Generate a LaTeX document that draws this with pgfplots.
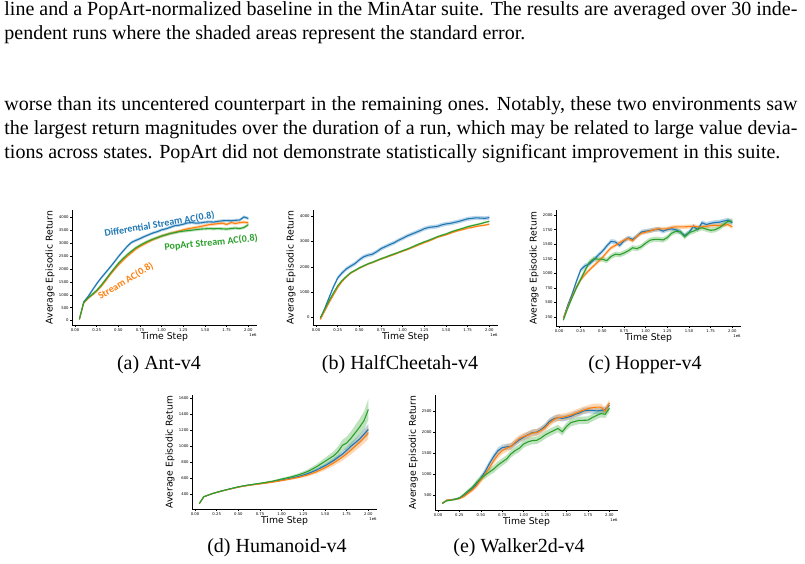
\documentclass[border=0pt]{standalone}
\usepackage{fontspec}
\setmainfont{Liberation Serif}
\newfontfamily\dejavu{DejaVu Sans}
\newfontfamily\carlito{Carlito}
\usepackage{pgfplots}
\pgfplotsset{compat=1.18}
\usepackage{pgfplotstable}
\usepgfplotslibrary{fillbetween}
\definecolor{tblue}{HTML}{1F77B4}
\definecolor{torange}{HTML}{FF7F0E}
\definecolor{tgreen}{HTML}{2CA02C}
\newcommand\ticks{\dejavu\fontsize{1.9}{2.2}\selectfont}
\newcommand\labf{\dejavu\fontsize{4.65}{5.5}\selectfont}
\newcommand\annf{\carlito\bfseries\fontsize{5.0}{6}\selectfont}

\newcommand{\series}[5]{%
 \addplot[draw=none, forget plot, name path=U#5] table[x=x, y expr=\thisrow{#2}+\thisrow{#3}] {#1};
 \addplot[draw=none, forget plot, name path=L#5] table[x=x, y expr=\thisrow{#2}-\thisrow{#3}] {#1};
 \addplot[fill=#4, fill opacity=0.3, draw=none, forget plot] fill between[of=U#5 and L#5];
 \addplot[color=#4, line width=0.55pt] table[x=x, y=#2] {#1};
}

\pgfplotsset{
 panel/.style={
   scale only axis, width=92.5pt, height=57.5pt, anchor=south west,
   axis lines=left, axis line style={-, line width=0.4pt, black},
   tick align=outside, major tick length=1pt, tick style={line width=0.3pt, black},
   xtick={0,0.25,0.5,0.75,1,1.25,1.5,1.75,2},
   xticklabels={0.00,0.25,0.50,0.75,1.00,1.25,1.50,1.75,2.00},
   ticklabel style={font=\ticks, inner sep=0.5pt},
   xlabel={Time Step}, ylabel={Average Episodic Return},
   xlabel style={font=\labf, at={(axis description cs:0.5,-0.104)}, anchor=center},
   ylabel style={font=\labf, at={(axis description cs:-0.118,0.5)}, anchor=center},
   xmin=-0.035, xmax=2.10, clip=false,
   scaled y ticks=false, scaled x ticks=false,
 },
}

\pgfplotstableread{
x b bs o os g gs
0.05 50 30 50 30 50 30
0.10 720 50 680 50 700 50
0.15 930 55 860 50 880 50
0.20 1180 60 1000 55 1020 55
0.25 1430 60 1140 55 1170 55
0.30 1650 60 1320 60 1360 60
0.35 1850 60 1530 60 1580 60
0.40 2050 60 1760 60 1800 60
0.45 2260 60 1960 60 2010 60
0.50 2480 60 2160 60 2220 60
0.55 2680 60 2330 60 2390 60
0.60 2870 60 2490 60 2550 60
0.65 3030 60 2630 60 2690 60
0.70 3110 60 2770 60 2820 60
0.75 3180 60 2880 60 2920 60
0.80 3260 60 2970 60 3010 60
0.85 3330 60 3060 60 3090 60
0.90 3400 60 3140 60 3160 60
0.95 3450 60 3210 60 3220 60
1.00 3520 60 3280 60 3280 60
1.05 3560 60 3330 60 3330 60
1.10 3620 60 3380 60 3380 60
1.15 3680 60 3430 60 3410 60
1.20 3700 60 3470 60 3450 60
1.25 3740 60 3520 60 3470 60
1.30 3790 60 3560 60 3490 60
1.35 3800 60 3590 60 3510 60
1.40 3780 60 3620 60 3530 60
1.45 3790 60 3650 60 3550 60
1.50 3820 60 3690 60 3560 60
1.55 3830 60 3720 60 3570 60
1.60 3820 60 3740 60 3560 60
1.65 3850 60 3760 60 3570 60
1.70 3870 60 3780 60 3560 60
1.75 3880 60 3730 60 3550 60
1.80 3870 60 3800 60 3570 60
1.85 3890 60 3770 60 3590 60
1.90 3900 60 3800 60 3570 60
1.95 4020 60 3820 60 3610 60
2.00 3960 60 3790 60 3720 60
}\tabA

\pgfplotstableread{
x b bs o os g gs
0.05 -50 40 -80 30 -10 30
0.10 350 60 250 40 320 40
0.15 780 70 580 40 660 40
0.20 1200 75 880 40 960 40
0.25 1560 80 1180 40 1250 40
0.30 1760 80 1420 40 1460 40
0.35 1920 80 1600 40 1620 40
0.40 2030 80 1750 40 1770 40
0.45 2130 80 1850 40 1860 40
0.50 2280 80 1950 40 1960 40
0.55 2400 80 2030 40 2040 40
0.60 2460 80 2110 40 2120 40
0.65 2500 80 2170 40 2180 40
0.70 2600 80 2240 40 2250 40
0.75 2720 80 2310 40 2320 40
0.80 2800 80 2370 40 2380 40
0.85 2880 80 2430 40 2450 40
0.90 2950 80 2490 40 2510 40
0.95 3050 80 2560 40 2570 40
1.00 3130 80 2620 40 2640 40
1.05 3220 80 2680 40 2700 40
1.10 3290 80 2750 40 2770 40
1.15 3360 80 2820 40 2850 40
1.20 3430 80 2890 40 2920 40
1.25 3510 80 2960 40 2990 40
1.30 3560 80 3020 40 3050 40
1.35 3580 80 3090 40 3120 40
1.40 3600 80 3170 40 3190 40
1.45 3660 80 3220 40 3250 40
1.50 3700 80 3270 40 3300 40
1.55 3720 80 3330 40 3370 40
1.60 3760 80 3390 40 3430 40
1.65 3800 80 3440 40 3480 40
1.70 3850 80 3480 40 3530 40
1.75 3900 80 3530 40 3590 40
1.80 3920 80 3560 40 3630 40
1.85 3940 80 3600 40 3670 40
1.90 3930 80 3630 40 3710 40
1.95 3920 80 3650 40 3760 40
2.00 3950 80 3690 40 3800 40
}\tabB

\pgfplotstableread{
x b bs o os g gs
0.05 230 20 230 20 195 20
0.10 450 30 420 30 400 30
0.15 640 35 600 35 580 35
0.20 860 40 760 35 750 40
0.25 1060 40 890 35 900 45
0.30 1130 40 980 35 1050 45
0.35 1160 40 1060 35 1190 45
0.40 1230 40 1130 35 1250 45
0.45 1310 40 1200 35 1245 45
0.50 1380 40 1270 35 1245 45
0.55 1470 40 1360 35 1220 45
0.60 1550 40 1440 35 1290 45
0.65 1540 40 1480 35 1330 45
0.70 1480 40 1530 35 1320 45
0.75 1560 40 1570 35 1350 45
0.80 1610 40 1600 35 1390 45
0.85 1585 40 1560 35 1440 45
0.90 1640 40 1640 35 1425 45
0.95 1710 40 1690 35 1460 45
1.00 1725 40 1710 35 1520 45
1.05 1735 40 1730 35 1570 45
1.10 1750 40 1755 35 1585 45
1.15 1760 40 1765 35 1585 45
1.20 1725 40 1765 35 1575 45
1.25 1755 40 1765 35 1615 45
1.30 1765 40 1790 35 1690 45
1.35 1750 40 1800 35 1725 45
1.40 1710 40 1800 35 1715 45
1.45 1650 40 1800 35 1630 45
1.50 1700 40 1805 35 1700 45
1.55 1810 40 1810 35 1725 45
1.60 1755 40 1800 35 1760 45
1.65 1870 40 1800 35 1785 45
1.70 1840 40 1810 35 1760 45
1.75 1860 40 1820 35 1740 45
1.80 1875 40 1825 35 1750 45
1.85 1880 40 1825 35 1785 45
1.90 1900 40 1830 35 1840 45
1.95 1915 40 1840 35 1895 45
2.00 1870 40 1800 35 1900 45
}\tabC

\pgfplotstableread{
x b bs o os g gs
0.05 280 3 280 3 280 3
0.10 365 4 365 4 365 4
0.20 405 4 405 4 405 4
0.30 435 5 435 5 437 5
0.40 462 5 461 5 464 5
0.50 488 6 486 6 490 6
0.60 508 6 505 6 510 6
0.70 523 7 520 7 526 7
0.80 538 8 534 8 543 8
0.90 555 9 550 9 562 10
1.00 575 10 568 10 588 12
1.10 596 12 588 12 612 15
1.20 620 14 610 14 642 20
1.30 655 16 638 18 682 26
1.40 700 20 678 24 740 34
1.50 755 24 728 30 810 44
1.60 820 30 790 36 880 56
1.65 860 33 825 40 930 64
1.70 900 36 862 44 1010 70
1.75 948 40 905 48 1040 78
1.80 1000 45 950 53 1100 86
1.85 1045 50 1000 58 1170 95
1.90 1090 55 1050 63 1240 105
1.95 1150 62 1105 70 1320 115
2.00 1210 70 1170 78 1460 130
}\tabD

\pgfplotstableread{
x b bs o os g gs
0.05 300 15 300 15 300 15
0.10 370 20 375 20 360 20
0.15 385 20 385 20 375 20
0.20 400 20 395 20 395 20
0.25 430 25 415 25 425 25
0.30 480 30 460 30 510 30
0.35 560 40 540 40 600 40
0.40 650 50 620 50 680 50
0.45 760 60 720 60 800 60
0.50 900 70 860 70 900 70
0.55 1060 75 1000 75 975 80
0.60 1250 75 1150 80 1050 85
0.65 1420 75 1320 80 1120 90
0.70 1560 75 1460 85 1215 90
0.75 1630 75 1560 85 1290 90
0.80 1650 75 1620 85 1360 90
0.85 1660 75 1660 85 1480 90
0.90 1740 75 1760 85 1560 90
0.95 1820 75 1850 85 1620 90
1.00 1880 75 1900 85 1720 90
1.05 1940 75 1930 85 1770 90
1.10 1990 75 1980 85 1800 90
1.15 2000 75 1990 85 1805 90
1.20 2060 75 2040 85 1860 90
1.25 2140 75 2110 85 1935 90
1.30 2260 75 2220 85 1990 90
1.35 2320 75 2300 85 2040 90
1.40 2350 75 2350 85 2090 90
1.45 2330 75 2360 85 2010 90
1.50 2350 75 2380 85 2140 90
1.55 2380 75 2410 85 2230 90
1.60 2430 75 2450 85 2260 90
1.65 2460 75 2490 85 2285 90
1.70 2510 75 2530 85 2285 90
1.75 2525 75 2560 85 2290 90
1.80 2520 75 2590 85 2350 90
1.85 2510 75 2600 85 2400 90
1.90 2520 75 2600 85 2445 90
1.95 2540 75 2510 85 2430 90
2.00 2650 75 2700 85 2570 90
}\tabE

\begin{document}
\begin{tikzpicture}
\path (0,0) rectangle (402.5pt,-281pt);

% body text
\node[anchor=base west, inner sep=0] at (2pt,-8pt) {\makebox[396.5pt][s]{line and a PopArt-normalized baseline in the MinAtar suite. The results are averaged over 30 inde-}};
\node[anchor=base west, inner sep=0] at (2pt,-20pt) {pendent runs where the shaded areas represent the standard error.};
\node[anchor=base west, inner sep=0] at (2pt,-55.5pt) {\makebox[396.5pt][s]{worse than its uncentered counterpart in the remaining ones. Notably, these two environments saw}};
\node[anchor=base west, inner sep=0] at (2pt,-67.5pt) {\makebox[396.5pt][s]{the largest return magnitudes over the duration of a run, which may be related to large value devia-}};
\node[anchor=base west, inner sep=0] at (2pt,-79.5pt) {tions across states. PopArt did not demonstrate statistically significant improvement in this suite.};

% (a) Ant
\begin{axis}[panel, at={(36pt,-162.5pt)}, ymin=-170, ymax=4290,
  ytick={0,500,1000,1500,2000,2500,3000,3500,4000},
  yticklabels={0,500,1000,1500,2000,2500,3000,3500,4000}]
\series{\tabA}{b}{bs}{tblue}{aa}
\series{\tabA}{o}{os}{torange}{ab}
\series{\tabA}{g}{gs}{tgreen}{ac}
\node[font=\annf, text=tblue, rotate=9.5, inner sep=0pt] at (axis cs:0.975,3730) {Differential Stream AC(0.8)};
\node[font=\annf, text=tgreen, rotate=5.5, inner sep=0pt] at (axis cs:1.57,3020) {PopArt Stream AC(0.8)};
\node[font=\annf, text=torange, rotate=31, inner sep=0pt] at (axis cs:0.585,1530) {Stream AC(0.8)};
\node[font=\ticks, anchor=north east, inner sep=0pt] at (rel axis cs:1,0) [yshift=-4.3pt] {1e6};
\end{axis}

% (b) HalfCheetah
\begin{axis}[panel, at={(156.5pt,-162.5pt)}, ymin=-300, ymax=4250,
  ytick={0,1000,2000,3000,4000},
  yticklabels={0,1000,2000,3000,4000}]
\series{\tabB}{b}{bs}{tblue}{ba}
\series{\tabB}{o}{os}{torange}{bb}
\series{\tabB}{g}{gs}{tgreen}{bc}
\node[font=\ticks, anchor=north east, inner sep=0pt] at (rel axis cs:1,0) [yshift=-4.3pt] {1e6};
\end{axis}

% (c) Hopper
\begin{axis}[panel, at={(278pt,-163pt)}, height=58pt, ymin=95, ymax=2090,
  ytick={250,500,750,1000,1250,1500,1750,2000},
  yticklabels={250,500,750,1000,1250,1500,1750,2000}]
\series{\tabC}{b}{bs}{tblue}{ca}
\series{\tabC}{o}{os}{torange}{cb}
\series{\tabC}{g}{gs}{tgreen}{cc}
\node[font=\ticks, anchor=north east, inner sep=0pt] at (rel axis cs:1,0) [yshift=-4.3pt] {1e6};
\end{axis}

% (d) Humanoid
\begin{axis}[panel, at={(96pt,-254.5pt)}, height=57pt, ymin=212, ymax=1642,
  ytick={400,600,800,1000,1200,1400,1600},
  yticklabels={400,600,800,1000,1200,1400,1600}]
\series{\tabD}{b}{bs}{tblue}{da}
\series{\tabD}{o}{os}{torange}{db}
\series{\tabD}{g}{gs}{tgreen}{dc}
\node[font=\ticks, anchor=north east, inner sep=0pt] at (rel axis cs:1,0) [yshift=-4.3pt] {1e6};
\end{axis}

% (e) Walker2d
\begin{axis}[panel, at={(217.5pt,-255pt)}, width=91.5pt, ymin=141, ymax=2890,
  ytick={500,1000,1500,2000,2500},
  yticklabels={500,1000,1500,2000,2500}]
\series{\tabE}{b}{bs}{tblue}{ea}
\series{\tabE}{o}{os}{torange}{eb}
\series{\tabE}{g}{gs}{tgreen}{ec}
\node[font=\ticks, anchor=north east, inner sep=0pt] at (rel axis cs:1,0) [yshift=-4.3pt] {1e6};
\end{axis}

% captions
\node at (79.5pt,-182.5pt) {(a) Ant-v4};
\node at (200pt,-182.5pt) {(b) HalfCheetah-v4};
\node at (322.5pt,-182.5pt) {(c) Hopper-v4};
\node at (138.5pt,-274pt) {(d) Humanoid-v4};
\node at (259.5pt,-274pt) {(e) Walker2d-v4};
\end{tikzpicture}
\end{document}
